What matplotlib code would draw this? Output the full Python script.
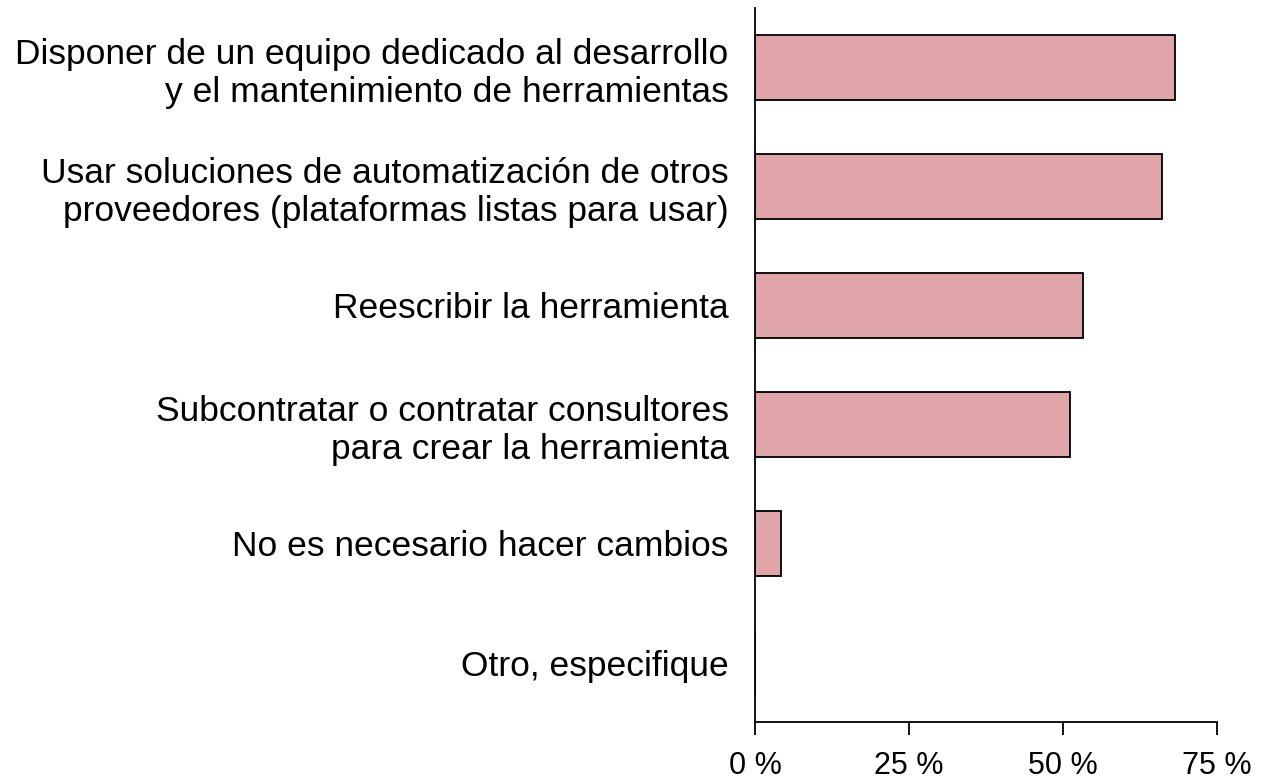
import matplotlib
matplotlib.use("Agg")
import matplotlib.pyplot as plt

categories = [
    "Disponer de un equipo dedicado al desarrollo\ny el mantenimiento de herramientas",
    "Usar soluciones de automatización de otros\nproveedores (plataformas listas para usar)",
    "Reescribir la herramienta",
    "Subcontratar o contratar consultores\npara crear la herramienta",
    "No es necesario hacer cambios",
    "Otro, especifique",
]
values = [68.2, 66.1, 53.2, 51.1, 4.2, 0.0]
xticks = [0, 25, 50, 75]
xticklabels = ["0 %", "25 %", "50 %", "75 %"]

fig = plt.figure(figsize=(12.84, 7.82), dpi=100)
ax = fig.add_axes([0.588, 0.0767, 0.360, 0.9133])

pos = list(range(len(categories)))
ax.barh(pos, values, height=0.55, color="#DFA5A8", edgecolor="black", linewidth=1.3)
ax.set_ylim(len(categories) - 0.5, -0.5)
ax.set_xlim(0, 75)

ax.set_yticks(pos)
ax.set_yticklabels(categories, fontsize=25.5, family="Liberation Sans", linespacing=1.2)
ax.tick_params(axis="y", length=0, pad=19)
ax.set_xticks(xticks)
ax.set_xticklabels(xticklabels, fontsize=22, family="Liberation Sans")
ax.tick_params(axis="x", length=9, width=1.3, pad=12, direction="out")

for s in ["top", "right"]:
    ax.spines[s].set_visible(False)
for s in ["left", "bottom"]:
    ax.spines[s].set_linewidth(1.3)

fig.savefig("out.png", dpi=100)
